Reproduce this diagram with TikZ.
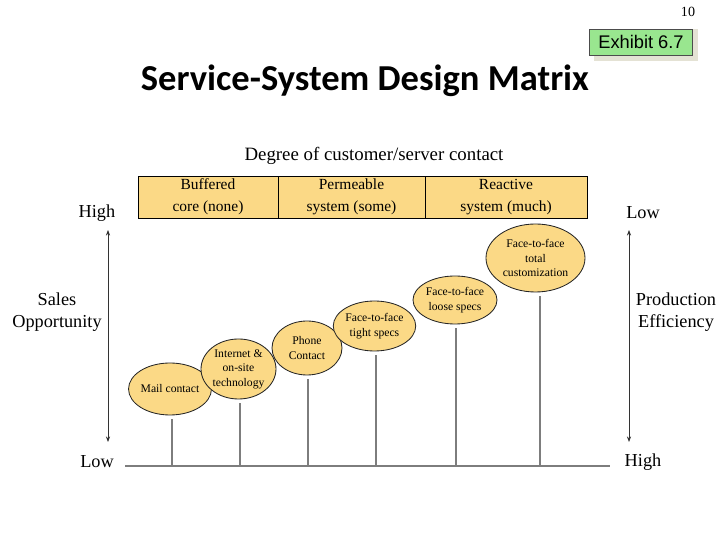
\documentclass[tikz,border=0pt]{standalone}
\usepackage{fontspec}
\setmainfont{Liberation Serif}
\newfontfamily\titlefont{Carlito}
\newfontfamily\boxfont{Liberation Sans}
\usetikzlibrary{shapes.geometric,arrows.meta}

\definecolor{cellfill}{RGB}{251,217,134}
\definecolor{tagfill}{RGB}{153,230,143}
\definecolor{tagshade}{RGB}{228,226,212}
\definecolor{stemgray}{RGB}{125,125,125}

\tikzset{
	cell/.style={draw=black, line width=0.7pt, fill=cellfill, minimum height=1.05cm, inner sep=0pt,
		align=center, font=\fontsize{11}{15.5}\selectfont},
	level/.style={ellipse, draw=black!85, line width=0.6pt, fill=cellfill, inner sep=0pt,
		align=center, font=\fontsize{8.3}{10.3}\selectfont},
	label/.style={align=center, font=\fontsize{13}{15.5}\selectfont},
	stem/.style={stemgray, line width=1.3pt, shorten >=0.08cm},
	axis/.style={black!80, line width=0.5pt, {Stealth[length=4pt,width=3pt]}-{Stealth[length=4pt,width=3pt]}}
}

\begin{document}
\begin{tikzpicture}
		\useasboundingbox (0, 0) rectangle (18.2, 13.65);

		% page number and exhibit tag
		\node[font=\fontsize{10}{12}\selectfont] (page) at (17.2, 13.35) {10};
		\fill[tagshade] (14.84, 12.12) rectangle (17.45, 12.93);
		\node[draw=black!70, fill=tagfill, minimum width=2.58cm, minimum height=0.65cm, inner sep=0pt,
			font=\boxfont\fontsize{13}{15}\selectfont] (tag) at (16.025, 12.6) {Exhibit 6.7};

		% title
		\node[font=\titlefont\bfseries\fontsize{26}{31}\selectfont] (title) at (9.125, 11.62) {Service-System Design Matrix};
		\node[label, font=\fontsize{13.4}{16}\selectfont] (degree) at (9.35, 9.75) {Degree of customer/server contact};

		% contact cells
		\node[cell, minimum width=3.5cm]	(buffered)	at (5.2, 8.725)		{Buffered\\core (none)};
		\node[cell, minimum width=3.675cm]	(permeable)	at (8.7875, 8.725)	{Permeable\\system (some)};
		\node[cell, minimum width=4.05cm]	(reactive)	at (12.65, 8.725)	{Reactive\\system (much)};

		% side scales
		\node[label] (salesHi)	at (2.425, 8.325)	{High};
		\node[label] (salesLo)	at (2.425, 2.1)		{Low};
		\node[label] (prodLo)	at (16.075, 8.325)	{Low};
		\node[label] (prodHi)	at (16.075, 2.1)	{High};
		\node[label] (sales)	at (1.425, 5.85)	{Sales\\Opportunity};
		\node[label] (prod)		at (16.9, 5.85)		{Production\\Efficiency};

		\coordinate (salesTop)	at (2.7, 7.9);
		\coordinate (salesBot)	at (2.7, 2.6);
		\coordinate (prodTop)	at (15.725, 7.9);
		\coordinate (prodBot)	at (15.725, 2.6);
		\draw[axis] (salesTop) to (salesBot);
		\draw[axis] (prodTop) to (prodBot);

		% base line
		\coordinate (baseL) at (3.125, 2.0);
		\coordinate (baseR) at (15.25, 2.0);
		\draw[stemgray, line width=1pt] (baseL) to (baseR);

		% service levels
		\node[level, minimum width=1.8cm, minimum height=1.3cm]		(mail)		at (4.25, 3.925)	{Mail contact};
		\node[level, minimum width=1.875cm, minimum height=1.5cm]	(internet)	at (5.9625, 4.425)	{Internet \&\\on-site\\technology};
		\node[level, minimum width=1.75cm, minimum height=1.35cm]	(phone)		at (7.675, 4.95)	{Phone\\Contact};
		\node[level, minimum width=2.05cm, minimum height=1.25cm]	(tight)		at (9.3625, 5.5)	{Face-to-face\\tight specs};
		\node[level, minimum width=2.1cm, minimum height=1.2cm]		(loose)		at (11.375, 6.15)	{Face-to-face\\loose specs};
		\node[level, minimum width=2.475cm, minimum height=1.7cm]	(custom)	at (13.3875, 7.2)	{Face-to-face\\total\\customization};

		\coordinate (s1) at (4.3, 2.0);
		\coordinate (s2) at (6.0, 2.0);
		\coordinate (s3) at (7.7, 2.0);
		\coordinate (s4) at (9.4, 2.0);
		\coordinate (s5) at (11.4, 2.0);
		\coordinate (s6) at (13.5, 2.0);
		\draw[stem] (s1) to (s1 |- mail.south);
		\draw[stem] (s2) to (s2 |- internet.south);
		\draw[stem] (s3) to (s3 |- phone.south);
		\draw[stem] (s4) to (s4 |- tight.south);
		\draw[stem] (s5) to (s5 |- loose.south);
		\draw[stem] (s6) to (s6 |- custom.south);
	\end{tikzpicture}
\end{document}
